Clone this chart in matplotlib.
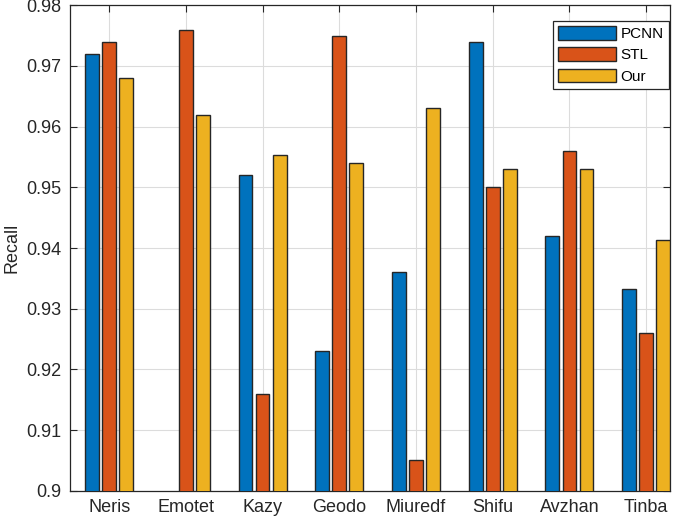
import numpy as np
import matplotlib
matplotlib.use("Agg")
import matplotlib.pyplot as plt

families = ["Neris", "Emotet", "Kazy", "Geodo", "Miuredf", "Shifu", "Avzhan", "Tinba"]
pcnn = [0.972, np.nan, 0.952, 0.923, 0.936, 0.974, 0.942, 0.9332]
stl = [0.974, 0.976, 0.916, 0.975, 0.905, 0.950, 0.956, 0.926]
ours = [0.968, 0.962, 0.9553, 0.954, 0.963, 0.953, 0.953, 0.9414]
series_names = ["PCNN", "STL", "Our"]
colors = ["#0072BD", "#D95319", "#EDB120"]

plt.rcParams["font.family"] = ["Liberation Sans", "DejaVu Sans"]

fig = plt.figure(figsize=(6.85, 5.22), dpi=100)
ax = fig.add_axes([0.1022, 0.06, 0.8758, 0.9298])

x = np.arange(1, len(families) + 1)
width = 0.18
offset = 0.222
for i, (vals, name, c) in enumerate(zip([pcnn, stl, ours], series_names, colors)):
    ax.bar(x + (i - 1) * offset, vals, width, color=c, edgecolor="#262626",
           linewidth=1.0, label=name, zorder=3)

ax.set_ylim(0.9, 0.98)
ax.set_xlim(0.49, 8.31)
ax.set_xticks(x)
ax.set_xticklabels(families)
yt = np.round(np.arange(0.90, 0.9801, 0.01), 2)
ax.set_yticks(yt)
ax.set_yticklabels([f"{v:g}" for v in yt])
ax.tick_params(axis="both", direction="in", top=True, right=True, length=5,
               width=0.8, labelsize=13, colors="#262626", pad=6)
ax.grid(True, color="#dcdcdc", linewidth=0.8, zorder=0)
ax.set_axisbelow(True)
for s in ax.spines.values():
    s.set_color("#262626")
    s.set_linewidth(0.9)
ax.set_ylabel("Recall", fontsize=13, color="#262626", labelpad=4)

leg = ax.legend(loc="upper right", bbox_to_anchor=(0.998, 0.968), fontsize=11,
                fancybox=False, framealpha=1, edgecolor="#262626",
                handlelength=3.75, handleheight=1.0, handletextpad=0.3,
                borderpad=0.35, labelspacing=0.4, borderaxespad=0.0)
leg.get_frame().set_linewidth(0.9)

fig.savefig("out.png", dpi=100)
